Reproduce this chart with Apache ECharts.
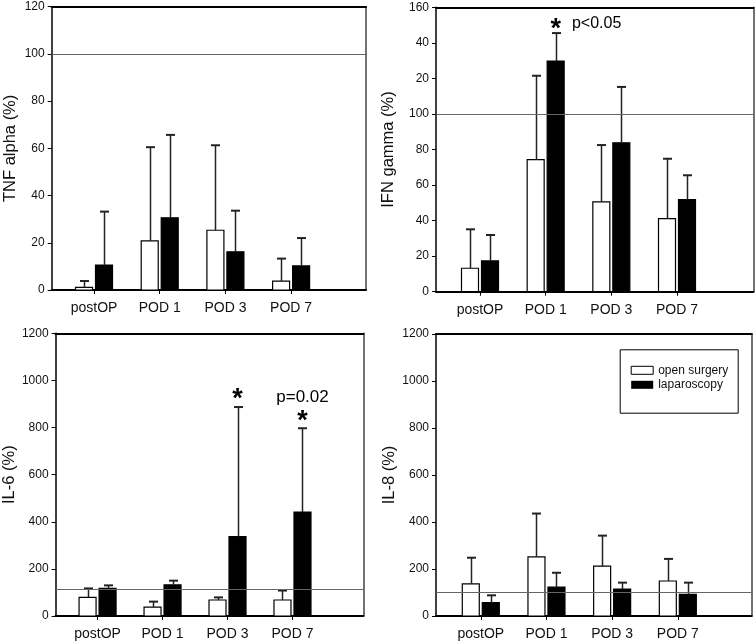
<!DOCTYPE html>
<html>
<head>
<meta charset="utf-8">
<script src="https://cdn.jsdelivr.net/npm/echarts@6/dist/echarts.min.js"></script>
<style>
html,body{margin:0;padding:0;background:#fff;}
#chart{width:755px;height:641px;}
</style>
</head>
<body>
<div id="chart"></div>
<script>
// ---- data ----
const categories = ['postOP', 'POD 1', 'POD 3', 'POD 7'];
const seriesNames = ['open surgery', 'laparoscopy'];

const tnfOpen = [1.1, 20.8, 25.3, 3.8];
const tnfOpenUpper = [3.8, 60.5, 61.3, 13.3];
const tnfLap = [10.6, 30.6, 16.2, 10.2];
const tnfLapUpper = [33.2, 65.7, 33.6, 22];

const ifnOpen = [13.2, 74.3, 50.5, 41.1];
const ifnOpenUpper = [35.1, 121.5, 82.5, 74.8];
const ifnLap = [17.3, 129.8, 83.8, 51.8];
const ifnLapUpper = [31.9, 145.5, 115.2, 65.5];

const il6Open = [79, 38, 68, 68];
const il6OpenUpper = [117, 61, 79, 108];
const il6Lap = [117, 132, 337, 441];
const il6LapUpper = [130, 150, 887, 797];

const il8Open = [137, 252, 212, 149];
const il8OpenUpper = [248, 436, 342, 243];
const il8Lap = [57, 123, 115, 92];
const il8LapUpper = [88, 184, 142, 142];

const ifnTickLabels = ['0', '20', '40', '60', '80', '100', '20', '40', '160'];
const yTitles = ['TNF alpha (%)', 'IFN gamma (%)', 'IL-6 (%)', 'IL-8 (%)'];
const yMaxes = [120, 160, 1200, 1200];
const yIntervals = [20, 20, 200, 200];
const referenceLevels = [100, 100, 112, 103];

// annotations: panel, category index, y value, text
const annPanel = [1, 1, 2, 2, 2];
const annCategory = [1, 1, 2, 3, 3];
const annY = [151, 151, 945, 928, 853];
const annText = ['*', 'p<0.05', '*', 'p=0.02', '*'];

// ---- layout ----
const FONT = '"Liberation Sans", Arial, sans-serif';
const TXT = '#111';
const grids = [
  {left: 51.7, top: 6.7, width: 314.3, height: 283.3},
  {left: 436, top: 7.3, width: 317.3, height: 284.4},
  {left: 51.7, top: 333.3, width: 311.6, height: 282.7},
  {left: 436, top: 334, width: 315.7, height: 282.7}
];
const xRanges = [[-0.644, 4.14], [-0.67, 4.162], [-0.646, 4.09], [-0.682, 4.125]];
const nameGaps = [33, 39, 33, 37];
const annDx = [10, 51, 10, 10, 10];
const annStyle = ['star', 'p', 'star', 'p', 'star'];

const panelData = [
  [tnfOpen, tnfOpenUpper, tnfLap, tnfLapUpper],
  [ifnOpen, ifnOpenUpper, ifnLap, ifnLapUpper],
  [il6Open, il6OpenUpper, il6Lap, il6LapUpper],
  [il8Open, il8OpenUpper, il8Lap, il8LapUpper]
];

const BAR_W = 17, BAR_OFF = 10;

function barRenderer(offset, fill) {
  return function (params, api) {
    const x = api.value(0), v = api.value(1);
    const p0 = api.coord([x, 0]);
    const p1 = api.coord([x, v]);
    return {
      type: 'rect',
      shape: {x: p0[0] + offset - BAR_W / 2, y: p1[1], width: BAR_W, height: p0[1] - p1[1]},
      style: {fill: fill, stroke: '#000', lineWidth: 1.2}
    };
  };
}
function errRenderer(offset) {
  return function (params, api) {
    const x = api.value(0), v = api.value(1), top = api.value(2);
    const p1 = api.coord([x, v]);
    const p2 = api.coord([x, top]);
    const cx = Math.round(p1[0] + offset) + 0.5;
    return {
      type: 'group',
      children: [
        {type: 'line', shape: {x1: cx, y1: p1[1], x2: cx, y2: p2[1]}, style: {stroke: '#222', lineWidth: 1.5}},
        {type: 'line', shape: {x1: cx - 4.5, y1: p2[1], x2: cx + 4.5, y2: p2[1]}, style: {stroke: '#222', lineWidth: 2}}
      ]
    };
  };
}

const xAxes = [], yAxes = [], series = [];
grids.forEach(function (g, p) {
  xAxes.push({
    type: 'value', gridIndex: p, min: xRanges[p][0], max: xRanges[p][1], position: 'bottom',
    splitLine: {show: false},
    axisLine: {show: true, onZero: false, lineStyle: {color: '#000', width: 2}},
    axisTick: {show: true, length: 4, lineStyle: {color: '#000', width: 1}, customValues: [0, 1, 2, 3]},
    axisLabel: {show: true, customValues: [0, 1, 2, 3], margin: 11, fontSize: 14, fontFamily: FONT, color: TXT,
      formatter: function (v) { return categories[Math.round(v)] || ''; }}
  });
  xAxes.push({
    type: 'value', gridIndex: p, min: xRanges[p][0], max: xRanges[p][1], position: 'top',
    splitLine: {show: false},
    axisLine: {show: true, onZero: false, lineStyle: {color: '#000', width: 2.2}},
    axisTick: {show: false}, axisLabel: {show: false}
  });
  yAxes.push({
    type: 'value', gridIndex: p, min: 0, max: yMaxes[p], interval: yIntervals[p], position: 'left',
    name: yTitles[p], nameLocation: 'middle', nameGap: nameGaps[p],
    nameTextStyle: {fontSize: 16.5, fontFamily: FONT, color: TXT},
    splitLine: {show: false},
    axisLine: {show: true, onZero: false, lineStyle: {color: '#000', width: 1.5}},
    axisTick: {show: true, length: 4, lineStyle: {color: '#000', width: 1}},
    axisLabel: {margin: 7, fontSize: 12, fontFamily: FONT, color: TXT,
      formatter: p === 1
        ? function (v) { return ifnTickLabels[Math.round(v / 20)]; }
        : function (v) { return String(v); }}
  });
  yAxes.push({
    type: 'value', gridIndex: p, min: 0, max: yMaxes[p], position: 'right',
    splitLine: {show: false},
    axisLine: {show: true, onZero: false, lineStyle: {color: '#444', width: 1.5}},
    axisTick: {show: false}, axisLabel: {show: false}
  });

  const d = panelData[p];
  const xi = 2 * p, yi = 2 * p;
  series.push({
    type: 'custom', name: seriesNames[0], xAxisIndex: xi, yAxisIndex: yi,
    itemStyle: {color: '#fff', borderColor: '#000', borderWidth: 1},
    renderItem: barRenderer(-BAR_OFF, '#fff'),
    data: d[0].map(function (v, i) { return [i, v]; }),
    markLine: {
      silent: true, symbol: 'none', label: {show: false},
      lineStyle: {color: '#666', width: 1, type: 'solid'},
      data: [{yAxis: referenceLevels[p]}]
    },
    z: 3
  });
  series.push({
    type: 'custom', name: seriesNames[1], xAxisIndex: xi, yAxisIndex: yi,
    itemStyle: {color: '#000'},
    renderItem: barRenderer(BAR_OFF, '#000'),
    data: d[2].map(function (v, i) { return [i, v]; }),
    z: 3
  });
  series.push({
    type: 'custom', name: 'err-open', xAxisIndex: xi, yAxisIndex: yi, silent: true,
    renderItem: errRenderer(-BAR_OFF),
    data: d[0].map(function (v, i) { return [i, v, d[1][i]]; }),
    z: 4
  });
  series.push({
    type: 'custom', name: 'err-lap', xAxisIndex: xi, yAxisIndex: yi, silent: true,
    renderItem: errRenderer(BAR_OFF),
    data: d[2].map(function (v, i) { return [i, v, d[3][i]]; }),
    z: 4
  });
  const annIdx = [];
  annPanel.forEach(function (pp, k) { if (pp === p) annIdx.push(k); });
  if (annIdx.length) {
    series.push({
      type: 'custom', name: 'annotations', xAxisIndex: xi, yAxisIndex: yi, silent: true,
      renderItem: function (params, api) {
        const k = annIdx[params.dataIndex];
        const pt = api.coord([api.value(0), api.value(1)]);
        const star = annStyle[k] === 'star';
        return {
          type: 'text', x: pt[0] + annDx[k], y: pt[1] + (star ? 6 : 0),
          style: {
            text: annText[k], fill: '#000', align: 'center', verticalAlign: 'middle',
            font: star ? 'bold 27px ' + FONT : (annText[k] === 'p<0.05' ? '16px ' : '17px ') + FONT
          }
        };
      },
      data: annIdx.map(function (k) { return [annCategory[k], annY[k]]; }),
      z: 5
    });
  }
});

const chart = echarts.init(document.getElementById('chart'), null, {renderer: 'canvas'});
chart.setOption({
  animation: false,
  backgroundColor: '#fff',
  grid: grids.map(function (g) { return Object.assign({containLabel: false}, g); }),
  xAxis: xAxes,
  yAxis: yAxes,
  graphic: [{
    type: 'rect', left: 617.7, top: 347.3, z: 10,
    shape: {width: 118, height: 63.4},
    style: {fill: 'none', stroke: '#000', lineWidth: 1}
  }],
  legend: {
    left: 630.7, top: 364.3, orient: 'vertical',
    data: [
      {name: seriesNames[0], icon: 'rect', itemStyle: {color: '#fff', borderColor: '#000', borderWidth: 1}},
      {name: seriesNames[1], icon: 'rect', itemStyle: {color: '#000'}}
    ],
    itemWidth: 22, itemHeight: 8, itemGap: 2.5,
    padding: 0,
    selectedMode: false,
    textStyle: {fontSize: 12, fontFamily: FONT, color: TXT}
  },
  series: series
});
</script>
</body>
</html>
